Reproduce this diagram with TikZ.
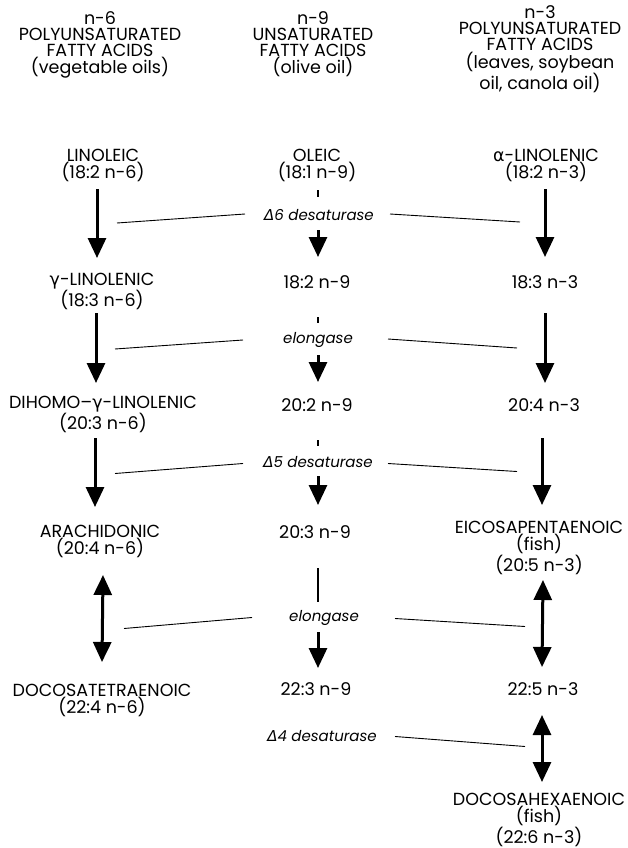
\documentclass[tikz,border=0pt]{standalone}
\usepackage{fontspec}
\setmainfont{Poppins}
\newfontfamily\grk{DejaVu Sans}
\usetikzlibrary{arrows.meta,calc}
\begin{document}
\begin{tikzpicture}[x=1pt,y=-1pt,
  lab/.style={anchor=base,align=center,inner sep=0pt,font=\fontsize{17.5}{17}\selectfont},
  hdr/.style={anchor=base,align=center,inner sep=0pt,font=\fontsize{17.5}{16}\selectfont},
  enz/.style={anchor=base,inner sep=0pt,font=\fontsize{15}{16}\selectfont\itshape},
  bigarr/.style={line width=3pt,-{Triangle[width=18pt,length=20pt]}},
  dblarr/.style={line width=3pt,{Triangle[width=18pt,length=20pt]}-{Triangle[width=18pt,length=20pt]}},
  guide/.style={line width=0.9pt},
  tickmark/.style={line width=2.5pt}]
\fill[white] (0,0) rectangle (628,848);
\useasboundingbox (0,0) rectangle (628,848);
% headers (anchor base = last line)
\node[hdr] (hl) at (100,74) {n-6\\POLYUNSATURATED\\FATTY ACIDS\\(vegetable oils)};
\node[hdr] (hm) at (313,74) {n-9\\UNSATURATED\\FATTY ACIDS\\(olive oil)};
\node[hdr] (hr) at (540,90) {n-3\\POLYUNSATURATED\\FATTY ACIDS\\(leaves, soybean\\oil, canola oil)};
% row 1
\node[lab] (lin) at (103,178) {LINOLEIC\\(18:2 n-6)};
\node[lab] (ole) at (317,178) {OLEIC\\(18:1 n-9)};
\node[lab] (aln) at (546,178) {{\grk α}-LINOLENIC\\(18:2 n-3)};
% row 2
\node[lab] (gln) at (102,306) {{\grk γ}-LINOLENIC\\(18:3 n-6)};
\node[lab] (m2) at (317,288) {18:2 n-9};
\node[lab] (r2) at (545,288) {18:3 n-3};
% row 3
\node[lab] (dgl) at (103,429) {DIHOMO--{\grk γ}-LINOLENIC\\(20:3 n-6)};
\node[lab] (m3) at (317,411) {20:2 n-9};
\node[lab] (r3) at (544,411) {20:4 n-3};
% row 4
\node[lab] (ara) at (100,554) {ARACHIDONIC\\(20:4 n-6)};
\node[lab] (m4) at (315,538) {20:3 n-9};
\node[lab] (epa) at (539,571) {EICOSAPENTAENOIC\\(fish)\\(20:5 n-3)};
% row 5
\node[lab] (dta) at (102,713) {DOCOSATETRAENOIC\\(22:4 n-6)};
\node[lab] (m5) at (316,695) {22:3 n-9};
\node[lab] (r5) at (543,695) {22:5 n-3};
% row 6
\node[lab] (dha) at (539,843) {DOCOSAHEXAENOIC\\(fish)\\(22:6 n-3)};
% enzymes
\node[enz] (e1) at (319,220.5) {{\grk Δ}6 desaturase};
\node[enz] (e2) at (318,343) {elongase};
\node[enz] (e3) at (318,467.5) {{\grk Δ}5 desaturase};
\node[enz] (e4) at (324,621.5) {elongase};
\node[enz] (e5) at (322,741.5) {{\grk Δ}4 desaturase};
% left column arrows
\draw[bigarr] ($(lin.base)+(-6,11)$) -- ($(gln.base)+(-5,-48)$);
\draw[bigarr] ($(gln.base)+(-6,7)$) -- ($(dgl.base)+(-7,-46)$);
\draw[bigarr] ($(dgl.base)+(-8,9)$) -- ($(ara.base)+(-5,-47)$);
\draw[dblarr] ($(ara.base)+(3,21)$) -- ($(dta.base)+(0,-51)$);
% right column arrows
\draw[bigarr] ($(aln.base)+(-1,11)$) -- ($(r2.base)+(0,-31)$);
\draw[bigarr] ($(r2.base)+(0,25)$) -- ($(r3.base)+(1,-28)$);
\draw[bigarr] ($(r3.base)+(-2,27)$) -- ($(epa.base)+(3,-66)$);
\draw[dblarr] ($(epa.base)+(4,9)$) -- ($(r5.base)+(-1,-28)$);
\draw[dblarr] ($(r5.base)+(-1,20)$) -- ($(dha.base)+(3,-61)$);
% middle column
\draw[tickmark] ($(ole.base)+(1,12)$) -- ($(ole.base)+(1,19)$);
\draw[bigarr] ($(e1.base)+(-1,9.5)$) -- ($(m2.base)+(1,-31)$);
\draw[tickmark] ($(m2.base)+(1,29)$) -- ($(m2.base)+(1,35)$);
\draw[bigarr] ($(e2.base)+(0,12)$) -- ($(m3.base)+(1,-29)$);
\draw[tickmark] ($(m3.base)+(1,29)$) -- ($(m3.base)+(1,35)$);
\draw[bigarr] ($(e3.base)+(0,8.5)$) -- ($(m4.base)+(3,-33)$);
\draw[tickmark] ($(m4.base)+(3,30)$) -- ($(m4.base)+(3,64)$);
\draw[bigarr] ($(e4.base)+(-6,10.5)$) -- ($(m5.base)+(2,-27)$);
% guide lines
\draw[guide] ($(e1.base)+(-74,-6.5)$) -- ($(e1.base)+(-202,2.5)$);
\draw[guide] ($(e1.base)+(71,-6.5)$) -- ($(e1.base)+(201,1.5)$);
\draw[guide] ($(e2.base)+(-75,-3)$) -- ($(e2.base)+(-203,6)$);
\draw[guide] ($(e2.base)+(70,-4)$) -- ($(e2.base)+(199,5)$);
\draw[guide] ($(e3.base)+(-75,-4)$) -- ($(e3.base)+(-203,6)$);
\draw[guide] ($(e3.base)+(70,-4)$) -- ($(e3.base)+(199,4)$);
\draw[guide] ($(e4.base)+(-72,-4)$) -- ($(e4.base)+(-200,7)$);
\draw[guide] ($(e4.base)+(71,-3)$) -- ($(e4.base)+(201,5)$);
\draw[guide] ($(e5.base)+(73,-5)$) -- ($(e5.base)+(203,5)$);
\end{tikzpicture}
\end{document}
